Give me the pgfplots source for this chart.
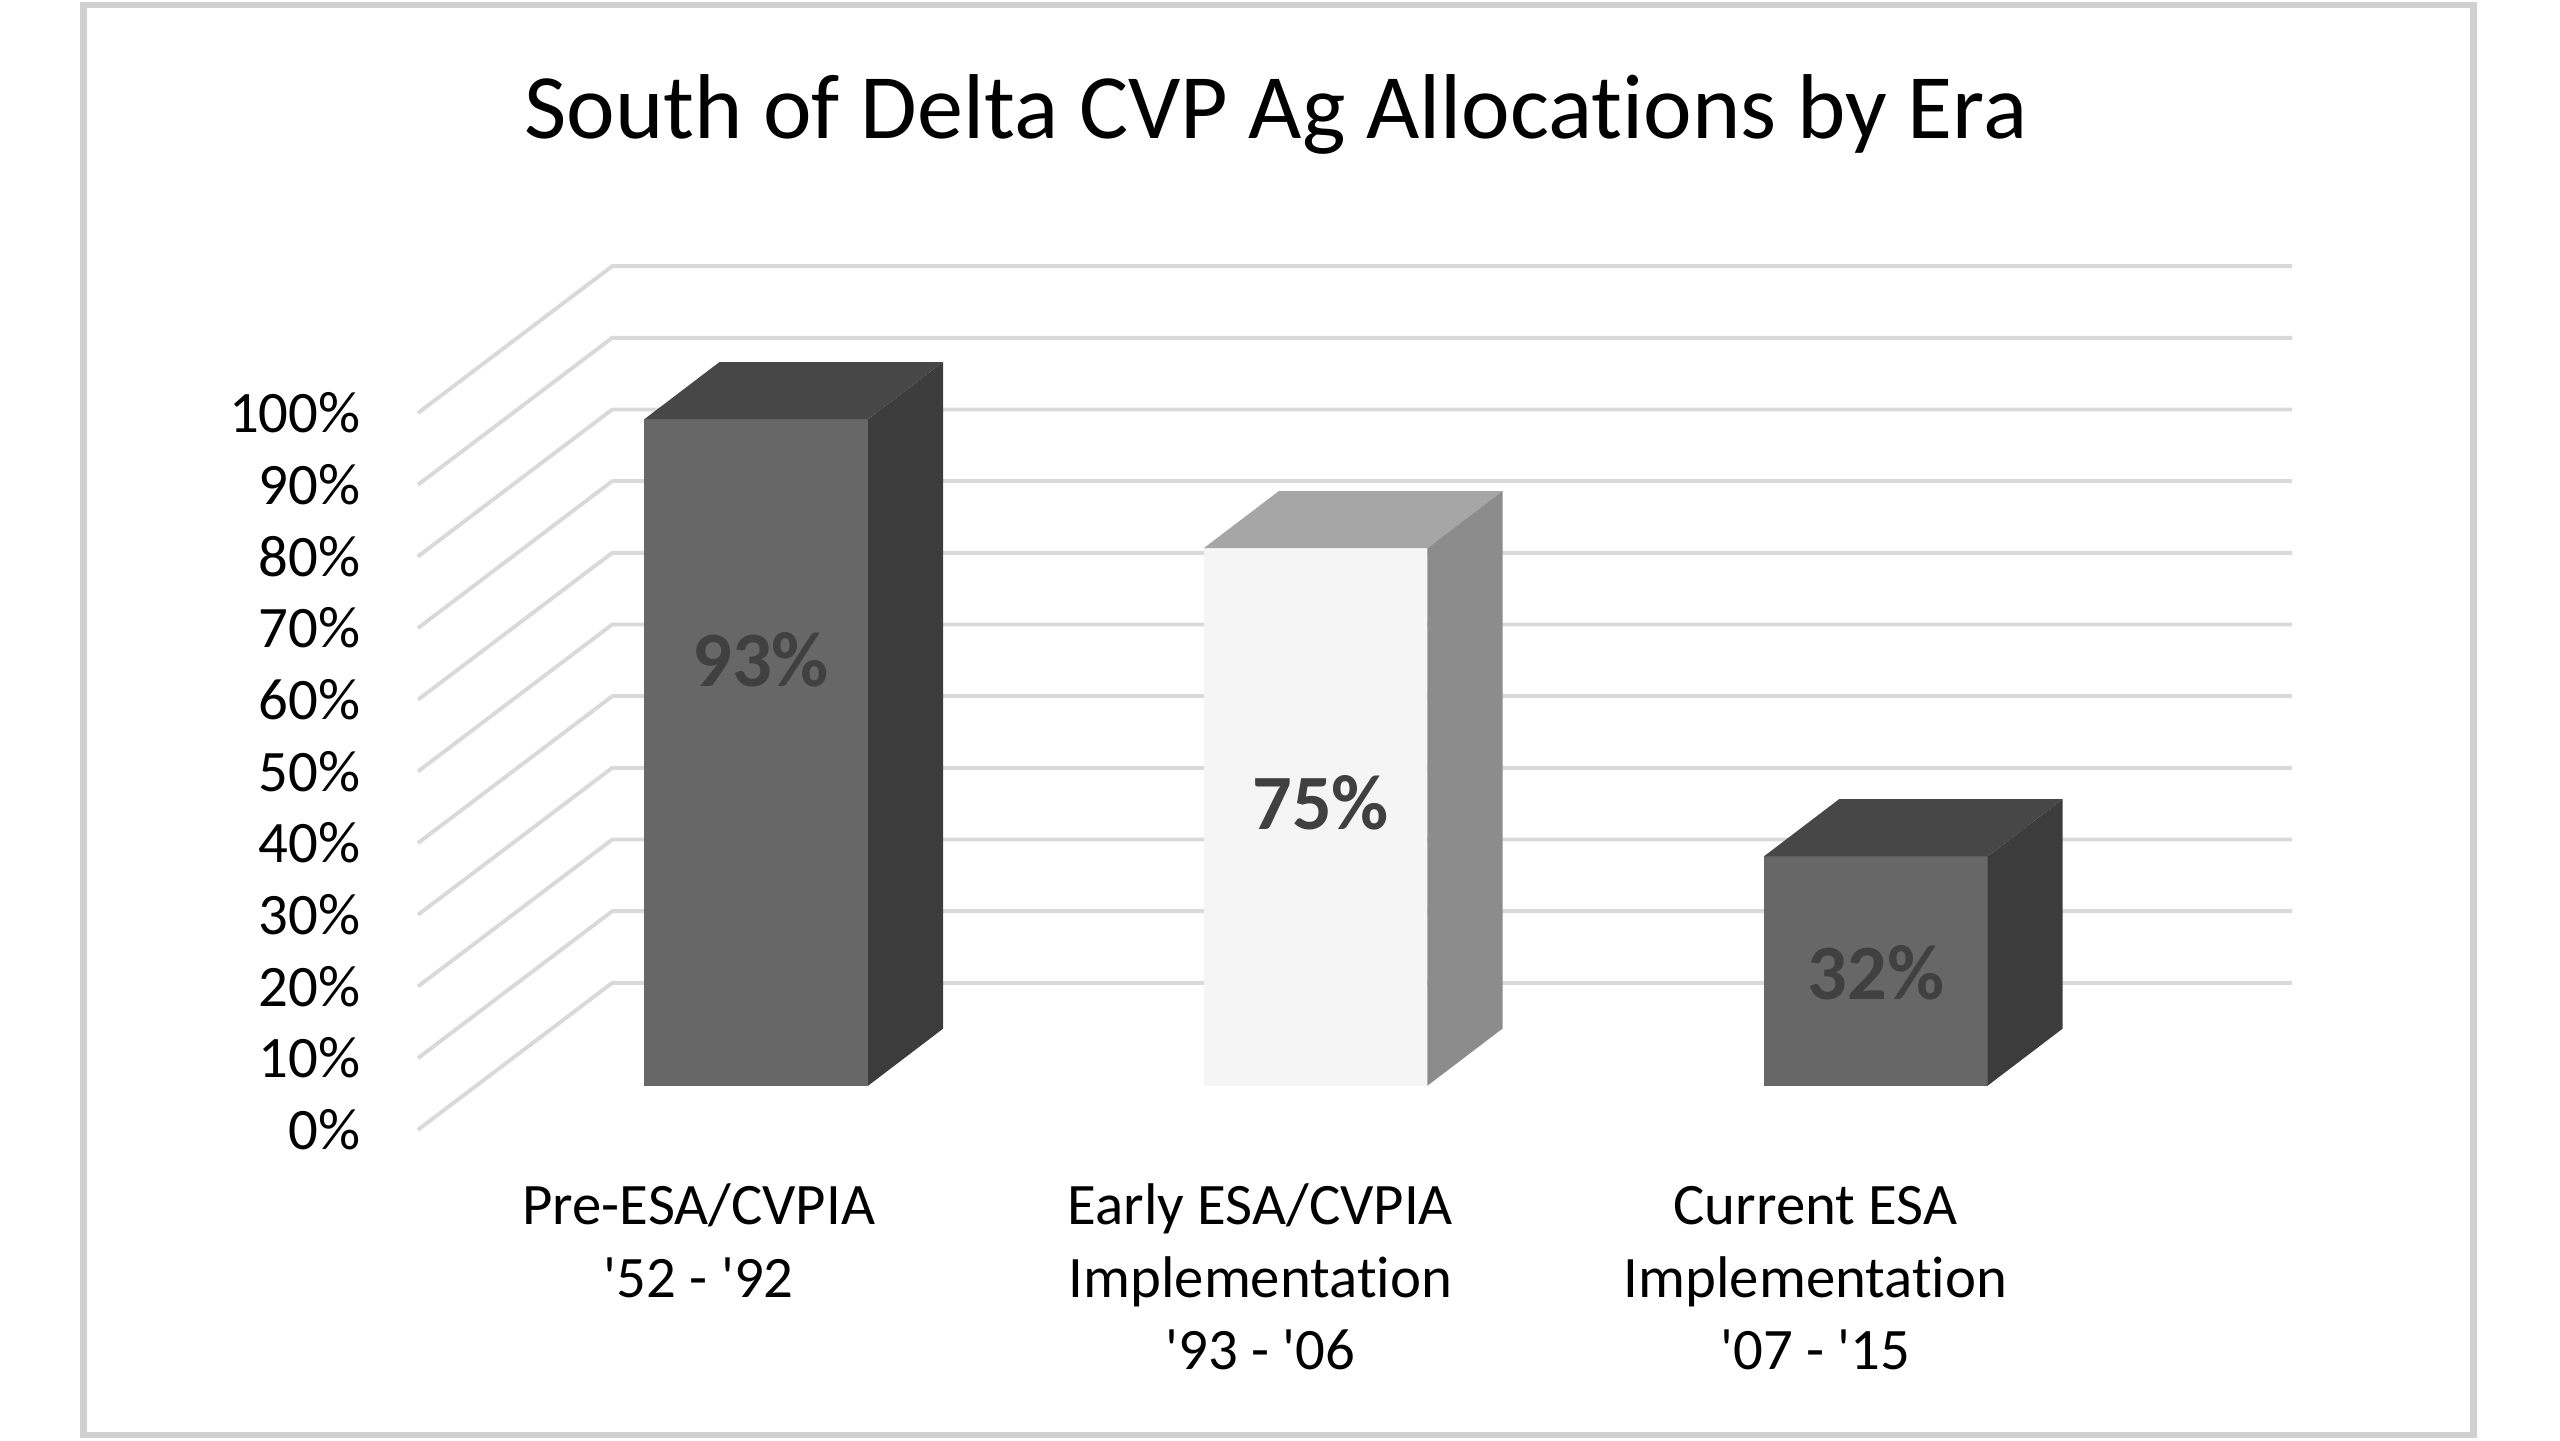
\documentclass[border=0pt]{standalone}
\usepackage{pgfplots}
\pgfplotsset{compat=1.18}
\usepackage{fontspec}
\setmainfont{Carlito}[Ligatures={NoCommon}]
\definecolor{gridc}{HTML}{D9D9D9}
\definecolor{frontA}{HTML}{676767}
\definecolor{sideA}{HTML}{3C3C3C}
\definecolor{topA}{HTML}{474747}
\definecolor{frontB}{HTML}{F5F5F5}
\definecolor{sideB}{HTML}{8C8C8C}
\definecolor{topB}{HTML}{A6A6A6}
\definecolor{lab}{HTML}{404040}
\definecolor{framec}{HTML}{D0D0D0}
\newcommand{\q}{\textquotesingle}
\begin{document}
\begin{tikzpicture}
\begin{axis}[
  width=392pt, height=220.5pt, scale only axis,
  xmin=0, xmax=1568, ymin=-43.28, ymax=157.63,
  clip=false,
  axis line style={draw=none},
  major tick length=0pt,
  tick style={draw=none},
  ytick={0,10,...,100},
  yticklabel={\pgfmathprintnumber{\tick}\%},
  /pgf/number format/assume math mode=true,
  yticklabel style={anchor=east, inner sep=0pt, xshift=55.4pt, font=\fontsize{9}{11}\selectfont},
  xtick={428,772,1112},
  xticklabels={{\strut Pre-ESA/CVPIA\\\q52 - \q92},{\strut Early ESA/CVPIA\\Implementation\\\q93 - \q06},{\strut Current ESA\\Implementation\\\q07 - \q15}},
  xticklabel style={align=center, anchor=north, inner sep=0pt, yshift=40.9pt, font=\fontsize{9}{11.1}\selectfont},
]
% back wall and side wall gridlines (0% ... 100%)
\addplot[gridc, line width=0.6pt] coordinates {(256,0) (375,20.5) (1404,20.5)};
\addplot[gridc, line width=0.6pt] coordinates {(256,10) (375,30.5) (1404,30.5)};
\addplot[gridc, line width=0.6pt] coordinates {(256,20) (375,40.5) (1404,40.5)};
\addplot[gridc, line width=0.6pt] coordinates {(256,30) (375,50.5) (1404,50.5)};
\addplot[gridc, line width=0.6pt] coordinates {(256,40) (375,60.5) (1404,60.5)};
\addplot[gridc, line width=0.6pt] coordinates {(256,50) (375,70.5) (1404,70.5)};
\addplot[gridc, line width=0.6pt] coordinates {(256,60) (375,80.5) (1404,80.5)};
\addplot[gridc, line width=0.6pt] coordinates {(256,70) (375,90.5) (1404,90.5)};
\addplot[gridc, line width=0.6pt] coordinates {(256,80) (375,100.5) (1404,100.5)};
\addplot[gridc, line width=0.6pt] coordinates {(256,90) (375,110.5) (1404,110.5)};
\addplot[gridc, line width=0.6pt] coordinates {(256,100) (375,120.5) (1404,120.5)};

% Bar 1: 93%
\addplot[ybar, bar width=137, bar shift=0pt, fill=frontA, draw=none, yshift=6.75pt] coordinates {(463.2,93)};
\addplot[fill=topA, draw=none, yshift=6.75pt] coordinates {(394.7,93) (531.7,93) (577.7,100.97) (440.7,100.97)} --cycle;
\addplot[fill=sideA, draw=none, yshift=6.75pt] coordinates {(531.7,0) (531.7,93) (577.7,100.97) (577.7,7.97)} --cycle;

% Bar 2: 75%
\addplot[ybar, bar width=137, bar shift=0pt, fill=frontB, draw=none, yshift=6.75pt] coordinates {(805.8,75)};
\addplot[fill=topB, draw=none, yshift=6.75pt] coordinates {(737.3,75) (874.3,75) (920.3,82.97) (783.3,82.97)} --cycle;
\addplot[fill=sideB, draw=none, yshift=6.75pt] coordinates {(874.3,0) (874.3,75) (920.3,82.97) (920.3,7.97)} --cycle;

% Bar 3: 32%
\addplot[ybar, bar width=137, bar shift=0pt, fill=frontA, draw=none, yshift=6.75pt] coordinates {(1148.9,32)};
\addplot[fill=topA, draw=none, yshift=6.75pt] coordinates {(1080.4,32) (1217.4,32) (1263.4,39.97) (1126.4,39.97)} --cycle;
\addplot[fill=sideA, draw=none, yshift=6.75pt] coordinates {(1217.4,0) (1217.4,32) (1263.4,39.97) (1263.4,7.97)} --cycle;

% data labels
\node[font=\fontsize{12}{14}\selectfont\bfseries, text=lab] at (axis cs:466,65.6) {93\%};
\node[font=\fontsize{12}{14}\selectfont\bfseries, text=lab] at (axis cs:809,45.56) {75\%};
\node[font=\fontsize{12}{14}\selectfont\bfseries, text=lab] at (axis cs:1149,21.87) {32\%};

% title
\node[font=\fontsize{14.1}{17}\selectfont] at (axis cs:781.5,141.7) {South of Delta CVP Ag Allocations by Era};

% chart frame
\draw[framec, line width=1pt] (axis cs:51,156.95) rectangle (axis cs:1515,-42.6);
\end{axis}
\end{tikzpicture}
\end{document}
